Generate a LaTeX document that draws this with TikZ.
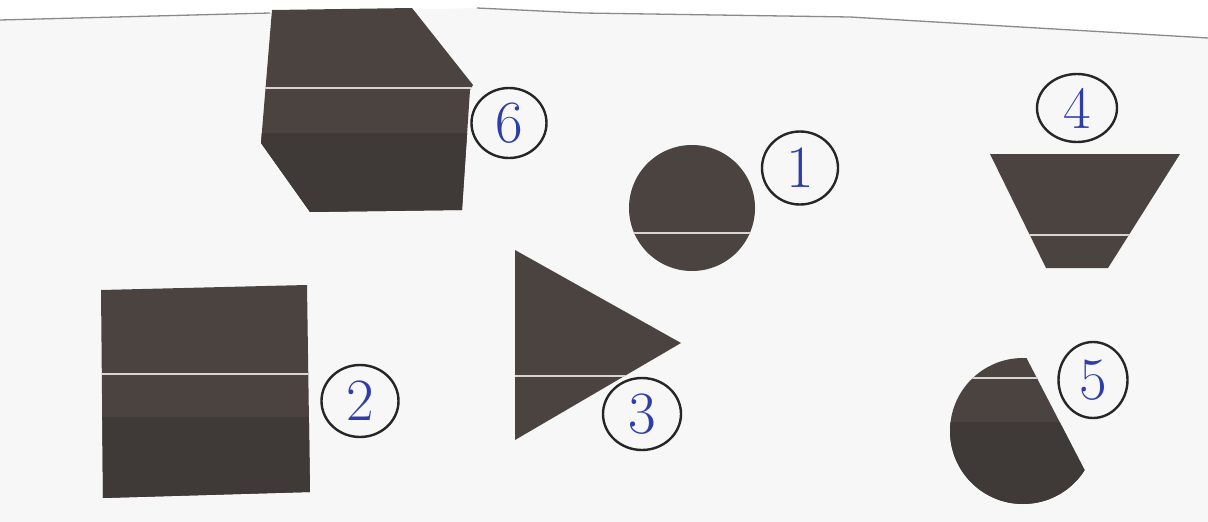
\documentclass[tikz,border=0pt]{standalone}
\usepackage{tikz}
\usetikzlibrary{shapes.geometric}
\definecolor{paper}{HTML}{F7F7F7}
\definecolor{ink}{HTML}{4A4340}
\definecolor{inkdark}{HTML}{3F3937}
\definecolor{seam}{HTML}{D8D6D4}
\definecolor{pen}{HTML}{2E3DA8}
\definecolor{edge}{HTML}{8A8A8A}
\tikzset{
  lab/.style={draw=black!85, line width=2.4pt, ellipse, inner sep=0pt, text=pen,
    font=\fontsize{60}{60}\selectfont},
  seamline/.style={draw=seam, line width=1.2pt},
  shapefill/.style={fill=ink},
  darkband/.style={fill=inkdark}
}
\begin{document}
\begin{tikzpicture}[x=1pt,y=-1pt]
\useasboundingbox (0,0) rectangle (1208,522);
\fill[paper] (0,0) rectangle (1208,522);
\fill[white] (0,0) -- (0,20) -- (270,13) -- (477,8) -- (583,13) -- (850,17) -- (1208,38) -- (1208,0) -- cycle;
\draw[edge, line width=1.3pt] (0,20) -- (270,13);
\draw[edge, line width=1.3pt] (477,8) -- (583,13) -- (850,17) -- (1208,38);

% shape 6: hexagon
\begin{scope}
\clip (272,10) -- (412,8) -- (473,85) -- (470,90) -- (462,210) -- (310,212) -- (261,143) -- cycle;
\fill[shapefill] (250,0) rectangle (480,220);
\fill[darkband] (250,133) rectangle (480,220);
\draw[seamline] (250,88) -- (480,88);
\end{scope}

% shape 1: disc
\begin{scope}
\clip (692,208) circle[radius=63];
\fill[shapefill] (620,140) rectangle (760,280);
\draw[seamline] (620,233) -- (760,233);
\end{scope}

% shape 4: trapezoid
\begin{scope}
\clip (990,154) -- (1180,154) -- (1108,268) -- (1046,268) -- cycle;
\fill[shapefill] (980,150) rectangle (1190,270);
\draw[seamline] (980,235) -- (1190,235);
\end{scope}

% shape 2: square
\begin{scope}
\clip (101,290) -- (307,285) -- (310,492) -- (103,498) -- cycle;
\fill[shapefill] (95,280) rectangle (315,500);
\fill[darkband] (95,417) rectangle (315,500);
\draw[seamline] (95,374) -- (315,374);
\end{scope}

% shape 3: triangle
\begin{scope}
\clip (515,250) -- (681,343) -- (515,440) -- cycle;
\fill[shapefill] (510,245) rectangle (690,445);
\draw[seamline] (510,376) -- (690,376);
\end{scope}

% shape 5: cut disc
\begin{scope}
\clip (998,303) -- (1112,523) -- (900,523) -- (900,303) -- cycle;
\clip (1023,431) circle[radius=73];
\fill[shapefill] (940,350) rectangle (1110,510);
\fill[darkband] (940,422) rectangle (1110,510);
\draw[seamline] (940,378) -- (1110,378);
\end{scope}

% labels
\node[lab, minimum width=75pt, minimum height=70pt] (l6) at (509,123) {6};
\node[lab, minimum width=76pt, minimum height=73pt] (l1) at (800,168) {1};
\node[lab, minimum width=80pt, minimum height=68pt] (l4) at (1077,108) {4};
\node[lab, minimum width=77pt, minimum height=72pt] (l2) at (360,401) {2};
\node[lab, minimum width=78pt, minimum height=72pt] (l3) at (642,414) {3};
\node[lab, minimum width=69pt, minimum height=76pt] (l5) at (1093,380) {5};
\end{tikzpicture}
\end{document}
